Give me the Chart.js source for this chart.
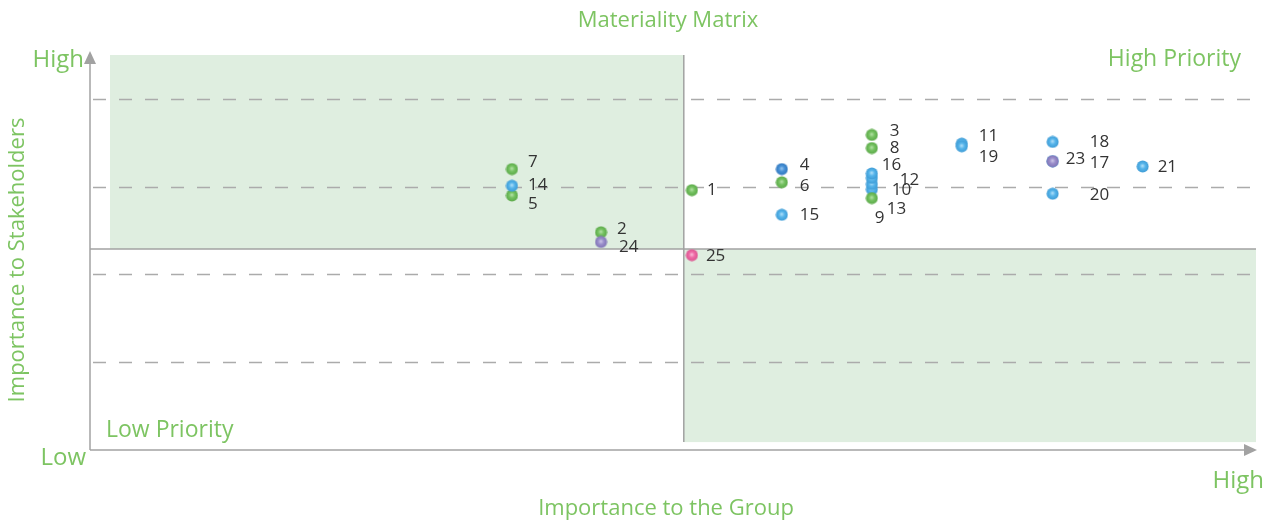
<!DOCTYPE html>
<html>
<head>
<meta charset="utf-8">
<title>Materiality Matrix</title>
<script src="https://cdn.jsdelivr.net/npm/chart.js@4/dist/chart.umd.min.js"></script>
<style>
  html, body { margin: 0; padding: 0; background: #fff; }
  #wrap { width: 1272px; height: 522px; position: relative; }
</style>
</head>
<body>
<div id="wrap"><canvas id="matrix"></canvas></div>
<script>
// ---------------------------------------------------------------
// Data: issue number, importance to the group (x), to stakeholders (y)
// ---------------------------------------------------------------
const issueIds  = [1, 2, 3, 4, 5, 6, 7, 8, 9, 10, 11, 12, 13, 14, 15, 16, 17, 18, 19, 20, 21, 23, 24, 25];
const groupImp  = [6.69, 5.68, 8.69, 7.69, 4.69, 7.69, 4.69, 8.69, 8.69, 8.69, 9.69, 8.69, 8.69, 4.69, 7.69, 8.69, 10.7, 10.7, 9.69, 10.7, 11.7, 10.7, 5.68, 6.69];
const stakeImp  = [2.96, 2.48, 3.59, 3.20, 2.90, 3.05, 3.20, 3.44, 2.97, 3.03, 3.49, 3.10, 2.87, 3.01, 2.68, 3.15, 3.29, 3.51, 3.46, 2.92, 3.23, 3.29, 2.37, 2.22];
const issueCat  = ['g', 'g', 'g', 'd', 'g', 'g', 'g', 'g', 'b', 'b', 'b', 'b', 'g', 'b', 'b', 'b', 'b', 'b', 'b', 'b', 'b', 'p', 'p', 'r'];

// axis range and quadrant split
const xMax = 12.96, yMax = 4.5;
const splitX = 6.6, splitY = 2.29;
const gridLines = [1, 2, 3, 4];

// label nudges (px) so overlapping numbers stay readable
const labelNudge = {
  1: [15, 0], 2: [16, -3], 3: [18, -4], 4: [18, -4], 5: [16, 9], 6: [18, 4], 7: [16, -7],
  8: [18, 0], 9: [3, 29], 10: [20, 6], 11: [17, -7], 12: [28, 2], 13: [15, 11], 14: [16, -1],
  15: [18, 0], 16: [10, -8], 17: [37, 2], 18: [37, 0], 19: [17, 11], 20: [37, 1], 21: [15, 1],
  23: [13, -2], 24: [18, 5], 25: [14, 1]
};

const GREEN_TXT = '#7dc462';
const FILL = '#dfeee0';
const LINE = '#a2a2a2';
const FONT = '"Open Sans", "Noto Sans", sans-serif';

// [highlight, body, rim]
const ballColors = {
  g: ['#b8e3aa', '#74c160', '#5aa848'],
  b: ['#b5e2fa', '#55b4ea', '#3d9ad4'],
  d: ['#9cc8ef', '#4690d6', '#3278bd'],
  p: ['#d0c9ea', '#9a8ecb', '#7f72b4'],
  r: ['#fbc1dc', '#ef6aa6', '#d9548f']
};

function ball(cols) {
  const c = document.createElement('canvas');
  c.width = 13; c.height = 13;
  const g = c.getContext('2d');
  const grd = g.createRadialGradient(6.3, 5.8, 0, 6.5, 6.5, 6.3);
  grd.addColorStop(0, cols[0]);
  grd.addColorStop(0.45, cols[1]);
  grd.addColorStop(1, cols[2]);
  g.fillStyle = grd;
  g.beginPath();
  g.arc(6.5, 6.5, 6, 0, Math.PI * 2);
  g.fill();
  return c;
}
const balls = {};
Object.keys(ballColors).forEach(k => { balls[k] = ball(ballColors[k]); });

const matrixDecor = {
  id: 'matrixDecor',
  beforeDatasetsDraw(chart) {
    const { ctx, chartArea: a, scales: { x, y } } = chart;
    const sx = x.getPixelForValue(splitX), sy = y.getPixelForValue(splitY);
    ctx.save();
    // shaded quadrants
    ctx.fillStyle = FILL;
    ctx.fillRect(a.left + 20, a.top, sx - a.left - 20, sy - a.top);
    ctx.fillRect(sx, sy, a.right - sx, y.getPixelForValue(0.09) - sy);

    // dashed guides
    ctx.strokeStyle = '#ababab';
    ctx.lineWidth = 1.5;
    ctx.setLineDash([13, 13]);
    gridLines.forEach(v => {
      const py = Math.round(y.getPixelForValue(v)) + 0.5;
      ctx.beginPath();
      ctx.moveTo(a.left + 3, py);
      ctx.lineTo(a.right - 4, py);
      ctx.stroke();
    });
    ctx.setLineDash([]);

    // quadrant split lines
    ctx.strokeStyle = LINE;
    ctx.lineWidth = 1.5;
    ctx.beginPath();
    ctx.moveTo(sx, a.top);
    ctx.lineTo(sx, y.getPixelForValue(0.09));
    ctx.moveTo(a.left, sy);
    ctx.lineTo(a.right, sy);
    ctx.stroke();

    // axes with arrows
    ctx.beginPath();
    ctx.moveTo(a.left, a.bottom);
    ctx.lineTo(a.left, a.top + 6);
    ctx.moveTo(a.left, a.bottom);
    ctx.lineTo(a.right - 8, a.bottom);
    ctx.stroke();
    ctx.fillStyle = LINE;
    ctx.beginPath();
    ctx.moveTo(a.left, a.top - 4);
    ctx.lineTo(a.left - 6, a.top + 9);
    ctx.lineTo(a.left + 6, a.top + 9);
    ctx.closePath();
    ctx.fill();
    ctx.beginPath();
    ctx.moveTo(a.right + 1, a.bottom);
    ctx.lineTo(a.right - 12, a.bottom - 6);
    ctx.lineTo(a.right - 12, a.bottom + 6);
    ctx.closePath();
    ctx.fill();
    ctx.restore();
  },
  afterDatasetsDraw(chart) {
    const { ctx } = chart;
    const meta = chart.getDatasetMeta(0);
    ctx.save();
    ctx.fillStyle = '#333';
    ctx.font = '17px ' + FONT;
    ctx.textBaseline = 'middle';
    meta.data.forEach((pt, i) => {
      const id = issueIds[i];
      const n = labelNudge[id] || [14, 0];
      ctx.fillText(String(id), pt.x + n[0], pt.y + n[1]);
    });
    ctx.restore();
  },
  afterDraw(chart) {
    const { ctx } = chart;
    ctx.save();
    ctx.fillStyle = GREEN_TXT;
    ctx.textBaseline = 'middle';
    ctx.font = '22px ' + FONT;
    ctx.textAlign = 'center';
    ctx.fillText('Materiality Matrix', 668, 21);
    ctx.fillText('Importance to the Group', 666, 509);
    ctx.save();
    ctx.translate(18, 260);
    ctx.rotate(-Math.PI / 2);
    ctx.fillText('Importance to Stakeholders', 0, 0);
    ctx.restore();

    ctx.font = '23px ' + FONT;
    ctx.textAlign = 'right';
    ctx.fillText('High Priority', 1241, 59);
    ctx.textAlign = 'left';
    ctx.fillText('Low Priority', 106, 430);

    ctx.font = '24px ' + FONT;
    ctx.textAlign = 'right';
    ctx.fillText('High', 84, 60);
    ctx.fillText('Low', 86, 458);
    ctx.fillText('High', 1264, 481);
    ctx.restore();
  }
};

new Chart(document.getElementById('matrix'), {
  type: 'scatter',
  data: {
    datasets: [{
      data: issueIds.map((id, i) => ({ x: groupImp[i], y: stakeImp[i] })),
      pointStyle: issueCat.map(c => balls[c]),
      pointRadius: 6,
      pointHoverRadius: 6
    }]
  },
  options: {
    responsive: true,
    maintainAspectRatio: false,
    animation: false,
    layout: { padding: { left: 90, right: 16, top: 55, bottom: 72 } },
    plugins: { legend: { display: false }, tooltip: { enabled: false } },
    scales: {
      x: { type: 'linear', min: 0, max: xMax, display: false },
      y: { type: 'linear', min: 0, max: yMax, display: false }
    }
  },
  plugins: [matrixDecor]
});
</script>
</body>
</html>
